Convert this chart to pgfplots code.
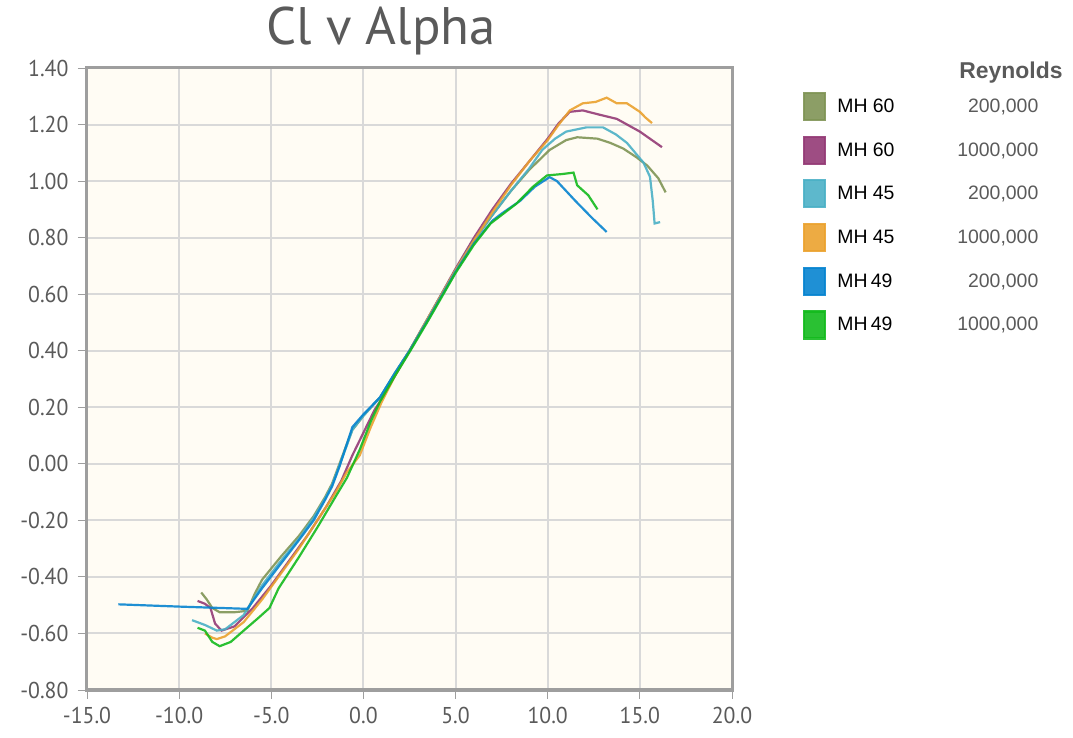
\documentclass[border=0pt]{standalone}
\usepackage{pgfplots}
\pgfplotsset{compat=1.18}
\usepackage{fontspec}
\setmainfont{PT Sans}
\newfontfamily\tickfont[FakeStretch=0.95]{PT Sans}
\newfontfamily\legfont{Liberation Sans}
\usetikzlibrary{shadows}
\definecolor{cOlive}{HTML}{7F9455}
\definecolor{cPurple}{HTML}{943A76}
\definecolor{cCyan}{HTML}{4BB0C6}
\definecolor{cOrange}{HTML}{EBA22F}
\definecolor{cBlue}{HTML}{0784D0}
\definecolor{cGreen}{HTML}{13BA1D}
\definecolor{bgc}{HTML}{FFFCF4}
\definecolor{gridc}{HTML}{D9D9D9}
\definecolor{framec}{HTML}{9E9E9E}
\definecolor{ticktext}{HTML}{5A5A5A}
\begin{document}
\begin{tikzpicture}
\path[use as bounding box] (-87bp,-48bp) rectangle (986bp,690bp);
\begin{axis}[
  width=645bp, height=622bp, scale only axis,
  at={(0,0)}, anchor=south west,
  xmin=-15, xmax=20, ymin=-0.8, ymax=1.4,
  xtick={-15,-10,-5,0,5,10,15,20},
  ytick={-0.8,-0.6,-0.4,-0.2,0,0.2,0.4,0.6,0.8,1.0,1.2,1.4},
  xticklabel={\pgfmathprintnumber[fixed,fixed zerofill,precision=1]{\tick}},
  yticklabel={\pgfmathprintnumber[fixed,fixed zerofill,precision=2]{\tick}},
  /pgf/number format/assume math mode=true,
  grid=major, major grid style={gridc, line width=2bp},
  axis line style={framec, line width=3bp},
  tick style={framec, line width=0.9bp}, major tick length=9bp, tick align=outside,
  xtick pos=left, ytick pos=left,
  tick label style={font=\tickfont\fontsize{23}{27}\selectfont, text=ticktext},
  yticklabel style={xshift=-6bp},
  xticklabel style={yshift=-5bp},
  axis background/.style={fill=bgc, drop shadow={shadow xshift=2bp, shadow yshift=-2bp, opacity=0.35}},
  title={Cl v Alpha},
  title style={at={(0.456,1)}, anchor=base, yshift=18bp, font=\fontsize{53}{60}\selectfont, text=ticktext},
  legend image code/.code={\fill[#1] (0bp,-13.5bp) rectangle (21bp,13.5bp);},
  legend style={at={(1.110,0.962)}, anchor=north west, draw=none, fill=none, inner sep=0pt,
    row sep=14.5bp, column sep=11bp, font=\legfont\fontsize{19.5}{22}\selectfont,
    nodes={inner sep=0pt}},
  legend cell align=left,
  every axis plot/.append style={line width=2.2bp, opacity=0.9},
]
\addplot[cOlive] coordinates {(-8.8,-0.455) (-8.5,-0.48) (-8.2,-0.51) (-7.8,-0.525) (-7,-0.525) (-6.3,-0.52) (-5.9,-0.46) (-5.5,-0.41) (-4.5,-0.33) (-3.5,-0.255) (-2.7,-0.185) (-2.1,-0.12) (-1.7,-0.07) (-1.3,0.0) (-0.9,0.07) (-0.6,0.12) (0,0.17) (0.9,0.235) (1.7,0.32) (2.5,0.40) (3.5,0.515) (5,0.685) (6,0.79) (7,0.88) (8,0.965) (9,1.04) (10.1,1.11) (11,1.145) (11.6,1.155) (12.7,1.15) (13.4,1.135) (14.1,1.115) (14.8,1.085) (15.4,1.055) (16,1.01) (16.4,0.96)};
\addlegendentry{\makebox[201bp][l]{MH 60\hfill\textcolor{ticktext}{200,000}}}
\addplot[cPurple] coordinates {(-9.0,-0.485) (-8.6,-0.495) (-8.3,-0.51) (-8.05,-0.565) (-7.7,-0.59) (-7,-0.575) (-6,-0.51) (-5,-0.43) (-4,-0.34) (-3,-0.25) (-2,-0.15) (-1.2,-0.06) (-0.6,0.03) (0,0.11) (0.6,0.19) (1,0.23) (1.7,0.31) (2.5,0.40) (3.5,0.515) (5,0.69) (6,0.80) (7,0.90) (8,0.99) (9,1.07) (10,1.15) (10.6,1.205) (11.2,1.245) (11.9,1.25) (12.8,1.235) (13.75,1.22) (15.0,1.175) (16.2,1.12)};
\addlegendentry{\makebox[201bp][l]{MH 60\hfill\textcolor{ticktext}{1000,000}}}
\addplot[cCyan] coordinates {(-9.3,-0.553) (-8.6,-0.57) (-7.95,-0.59) (-7.5,-0.585) (-6.5,-0.535) (-5.5,-0.43) (-4.5,-0.345) (-3.5,-0.265) (-2.7,-0.19) (-2.1,-0.125) (-1.7,-0.075) (-1.3,-0.005) (-0.9,0.065) (-0.6,0.12) (0,0.17) (0.9,0.235) (1.7,0.32) (2.5,0.40) (3.5,0.515) (5,0.685) (6,0.79) (7,0.88) (8,0.965) (9,1.045) (9.7,1.11) (10.4,1.15) (11,1.175) (12.1,1.19) (13,1.19) (13.7,1.165) (14.3,1.135) (15.2,1.065) (15.55,1.015) (15.7,0.93) (15.8,0.85) (16.1,0.855)};
\addlegendentry{\makebox[201bp][l]{MH 45\hfill\textcolor{ticktext}{200,000}}}
\addplot[cOrange] coordinates {(-8.6,-0.6) (-8.2,-0.615) (-7.95,-0.62) (-7.5,-0.61) (-6.5,-0.56) (-5.5,-0.48) (-4.5,-0.39) (-3.5,-0.30) (-2.5,-0.20) (-1.5,-0.10) (-0.9,-0.03) (-0.2,0.03) (0.4,0.13) (1,0.22) (1.7,0.31) (2.5,0.40) (3.5,0.515) (5,0.685) (6,0.79) (7,0.89) (8,0.985) (9,1.07) (10,1.145) (10.6,1.2) (11.2,1.25) (11.9,1.275) (12.6,1.28) (13.2,1.295) (13.75,1.275) (14.3,1.275) (15.0,1.245) (15.3,1.225) (15.66,1.205)};
\addlegendentry{\makebox[201bp][l]{MH 45\hfill\textcolor{ticktext}{1000,000}}}
\addplot[cBlue] coordinates {(-13.3,-0.497) (-10,-0.505) (-6.3,-0.513) (-5.5,-0.44) (-4.5,-0.355) (-3.5,-0.27) (-2.7,-0.2) (-2.1,-0.13) (-1.7,-0.08) (-1.3,-0.01) (-0.9,0.07) (-0.6,0.13) (0,0.175) (0.9,0.235) (1.7,0.32) (2.5,0.40) (3.5,0.51) (5,0.68) (6,0.78) (7,0.86) (7.5,0.885) (8.5,0.93) (9.3,0.98) (10.1,1.014) (10.5,1.0) (11.5,0.93) (12.4,0.87) (13.2,0.82)};
\addlegendentry{\makebox[201bp][l]{MH\,49\hfill\textcolor{ticktext}{200,000}}}
\addplot[cGreen] coordinates {(-9.0,-0.58) (-8.6,-0.59) (-8.2,-0.63) (-7.8,-0.645) (-7.2,-0.63) (-6.5,-0.59) (-5.7,-0.545) (-5.1,-0.51) (-4.6,-0.44) (-3.5,-0.33) (-2.5,-0.225) (-1.5,-0.115) (-0.9,-0.05) (-0.2,0.05) (0.4,0.15) (0.9,0.22) (1.7,0.31) (2.5,0.395) (3.5,0.505) (5,0.675) (6,0.775) (6.9,0.85) (7.5,0.88) (8.3,0.92) (9.2,0.98) (9.96,1.02) (10.8,1.025) (11.4,1.03) (11.6,0.985) (12.2,0.95) (12.7,0.90)};
\addlegendentry{\makebox[201bp][l]{MH\,49\hfill\textcolor{ticktext}{1000,000}}}
\end{axis}
\node[font=\legfont\bfseries\fontsize{23}{26}\selectfont, text=ticktext, anchor=east] at (979bp,617bp) {Reynolds};
\end{tikzpicture}
\end{document}
